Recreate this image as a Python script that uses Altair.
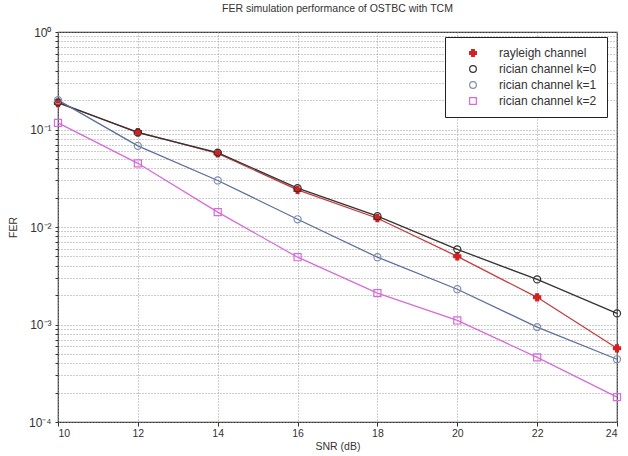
import altair as alt
import pandas as pd

snr = [10, 12, 14, 16, 18, 20, 22, 24]
series_names = ["rayleigh channel", "rician channel k=0", "rician channel k=1", "rician channel k=2"]
rayleigh = [0.187, 0.094, 0.057, 0.024, 0.0123, 0.0050, 0.0019, 0.00057]
rician_k0 = [0.19, 0.093, 0.058, 0.025, 0.0129, 0.0059, 0.0029, 0.0013]
rician_k1 = [0.20, 0.068, 0.030, 0.012, 0.0049, 0.0023, 0.00094, 0.00044]
rician_k2 = [0.117, 0.045, 0.0142, 0.0049, 0.0021, 0.0011, 0.00046, 0.00018]

line_colors = ["#c43c3c", "#333333", "#5b6f9e", "#d96ad9"]
point_colors = ["#d42020", "#333333", "#7f8fb0", "#d96ad9"]
shapes = ["cross", "circle", "circle", "square"]
fills = ["#d42020", "transparent", "transparent", "transparent"]

rows = []
for name, vals in zip(series_names, [rayleigh, rician_k0, rician_k1, rician_k2]):
    for s, v in zip(snr, vals):
        rows.append({"snr": s, "fer": v, "series": name})
df = pd.DataFrame(rows)

y_ticks = []
for e in [-4, -3, -2, -1]:
    for m in range(1, 10):
        y_ticks.append(round(m * 10 ** e, 8))
y_ticks.append(1.0)

font = "Liberation Sans"

x_enc = alt.X("snr:Q", scale=alt.Scale(domain=[10, 24], nice=False, zero=False),
              axis=alt.Axis(values=snr, title="SNR (dB)", grid=True, gridDash=[1, 2],
                            gridColor="#999999", tickColor="#333", labelFontSize=10.5,
                            titleFontSize=10.5, titleFontWeight="normal", labelColor="#333",
                            titleColor="#333", domain=False, tickSize=4, labelPadding=2,
                            titlePadding=3, labelFont=font, titleFont=font))
y_enc = alt.Y("fer:Q", scale=alt.Scale(type="log", domain=[1e-4, 1], nice=False),
              axis=alt.Axis(values=y_ticks, title="FER", grid=True, gridDash=[1, 2],
                            gridColor="#999999", tickColor="#333",
                            labelExpr="datum.value==1 ? '10⁰' : datum.value==0.1 ? '10⁻¹' : datum.value==0.01 ? '10⁻²' : datum.value==0.001 ? '10⁻³' : datum.value==0.0001 ? '10⁻⁴' : ''",
                            labelFontSize=12, titleFontSize=10.5, titleFontWeight="normal",
                            labelColor="#333", titleColor="#333", domain=False, tickSize=3,
                            labelPadding=4, titlePadding=10, labelFont=font, titleFont=font,
                            labelOverlap=False))

base = alt.Chart(df)
line_layers = []
for name, col in zip(series_names, line_colors):
    line_layers.append(
        base.transform_filter(alt.datum.series == name)
        .mark_line(strokeWidth=1.3, color=col)
        .encode(x=x_enc, y=y_enc)
    )

points = base.mark_point(size=50, strokeWidth=1.2, opacity=1).encode(
    x="snr:Q", y="fer:Q",
    color=alt.Color("series:N", scale=alt.Scale(domain=series_names, range=point_colors),
                    legend=alt.Legend(title=None, orient="none", legendX=387, legendY=5,
                                      fillColor="white", strokeColor="#222", padding=10,
                                      labelFontSize=12, labelFont=font, labelColor="#333",
                                      symbolSize=45, rowPadding=4, labelOffset=20,
                                      symbolOffset=12, symbolStrokeWidth=1.2)),
    shape=alt.Shape("series:N", scale=alt.Scale(domain=series_names, range=shapes)),
    fill=alt.Fill("series:N", scale=alt.Scale(domain=series_names, range=fills)),
)

chart = alt.layer(*line_layers, points).properties(
    width=559, height=390,
    title=alt.Title("FER simulation performance of OSTBC with TCM", fontSize=10.5,
                    fontWeight="normal", font=font, color="#333", offset=12),
    padding={"left": 58, "top": 32, "right": 11, "bottom": 34},
    autosize="none",
).configure_view(stroke="#333", strokeWidth=1.2)

chart.save("out.html", embed_options={"renderer": "svg", "actions": False})
